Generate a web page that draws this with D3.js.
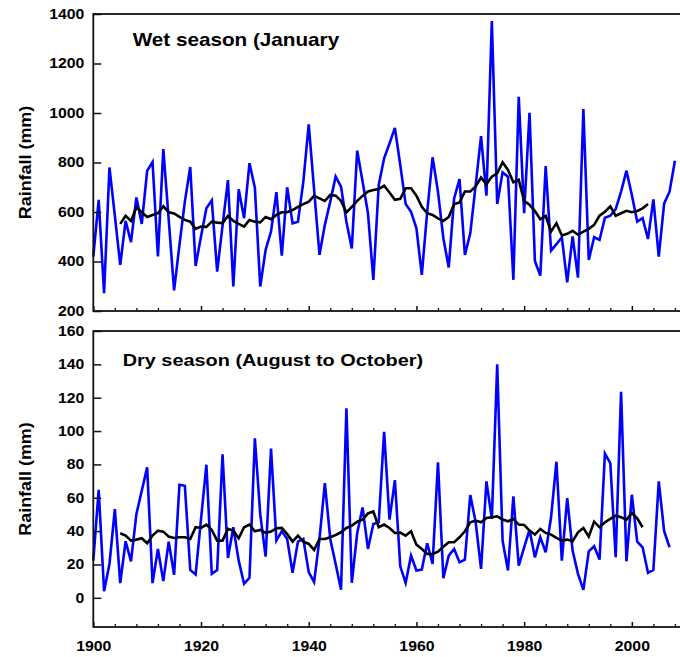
<!DOCTYPE html>
<html><head><meta charset="utf-8">
<script src="https://cdn.jsdelivr.net/npm/d3@7"></script>
<style>body{margin:0;background:#fff}svg{display:block}</style>
</head><body><svg id="c" width="680" height="657"></svg>
<script>
// ---------- data ----------
const wetYears = d3.range(1900, 2009);
const wetRain = [
  420,649,272,780,585,386,564,478,659,552,
  766,802,420,854,570,283,467,642,782,382,
  501,615,647,359,545,729,299,692,575,797,
  698,299,447,521,680,424,700,554,561,723,
  954,690,427,548,642,743,702,561,453,848,
  723,595,326,709,817,877,940,790,632,601,
  534,346,601,821,682,494,376,655,733,427,
  514,709,907,666,1372,632,760,743,326,1065,
  595,1001,402,343,786,444,470,498,316,501,
  335,1016,406,498,487,577,585,612,682,767,
  669,561,575,491,651,420,635,682,807
];
const wetAvgYears = d3.range(1905, 2004);
const wetAvg = [
  552,585,564,619,599,
  580,588,595,623,599,594,580,568,561,532,
  541,540,561,557,555,584,564,552,541,568,
  561,558,580,571,588,599,599,608,621,632,
  642,665,655,645,669,666,645,598,621,645,
  665,683,689,693,706,679,649,653,696,696,
  666,621,595,588,574,564,580,632,638,683,
  683,703,739,712,743,756,801,770,720,730,
  645,629,604,571,584,521,555,505,512,524,
  508,521,532,548,585,601,623,585,595,605,
  599,604,615,632
];
const dryYears = d3.range(1900, 2008);
const dryRain = [
  22.3,64.8,4.0,20.3,53.2,8.8,33.9,21.9,50.2,64.2,
  78.2,8.8,29.3,10.0,33.7,13.8,67.8,67.2,16.7,14.0,
  47,79.8,14.4,16.7,86.1,23.9,42.3,22.3,8.4,12.0,
  95.7,50,24.7,89.5,34.3,40,35.3,15.0,33.7,35.3,
  15.4,9.4,35.3,68.8,35.3,20.3,4.8,113.7,9.0,38.7,
  54.2,29.3,44.3,45.3,99.5,46.9,70.6,18.9,9.0,25.3,
  16.4,16.9,32.7,20.3,81.2,11.8,25.3,29.3,21.3,22.9,
  61.6,45.3,17.3,69.8,47.3,140.0,34.3,16.4,60.8,19.3,
  30.3,40.7,24.3,36.3,27.3,48.3,81.6,22.3,59.8,28.3,
  14.4,4.8,27.9,30.9,22.9,86.5,80.8,24.3,123.6,21.9,
  61.8,33.7,30.3,15.0,16.7,69.8,39.9,30.3
];
const dryAvgYears = d3.range(1905, 2003);
const dryAvg = [
  38.7,37.3,34.3,34.9,35.7,
  32.7,37.3,40.3,39.7,36.7,35.9,36.3,36.3,35.3,42.3,
  41.9,43.9,40.7,34.3,34.3,41.3,40.3,35.7,42.3,43.9,
  39.9,40.7,38.9,39.7,41.7,41.9,38.3,33.7,37.3,33.7,
  32.3,28.7,35.3,35.3,36.3,37.7,39.3,41.9,43.3,45.7,
  46.9,50.6,51.8,42.3,43.9,41.9,38.9,39.1,37.3,39.9,
  31.9,29.3,26.3,26.3,27.7,30.7,33.3,33.3,36.3,39.9,
  45.3,46.3,45.3,47.9,48.3,48.9,46.9,45.9,47.3,43.9,
  43.7,40.3,37.9,41.3,38.9,37.9,35.9,34.3,34.9,33.9,
  39.3,41.9,36.7,45.7,42.3,45.3,47.3,49.3,48.3,46.9,
  50.8,47.7,42.3
];
const wetTicks = [200,400,600,800,1000,1200,1400];
const dryTicks = [0,20,40,60,80,100,120,140,160];
const yearTicks = [1900,1920,1940,1960,1980,2000];
const minorYearTicks = [1904,1908,1912,1916,1924,1928,1932,1936,1944,1948,1952,1956,1964,1968,1972,1976,1984,1988,1992,1996,2004,2008];
const wetTitle = "Wet season (January";
const dryTitle = "Dry season (August to October)";
const yTitle = "Rainfall (mm)";

// ---------- layout ----------
const FONT = "'Liberation Sans', Arial, Helvetica, sans-serif";
const SX = 1.13; // horizontal stretch of the reference font
const svg = d3.select("#c");
const x = d3.scaleLinear().domain([1900, 2010]).range([93.3, 685.7]);

const panels = [
  {top:14, bottom:311, domain:[200,1400], ticks:wetTicks, title:wetTitle, tx:132.7, ty:45.7, tfs:18,
   series:[{yrs:wetYears, v:wetRain, c:"#0000ff"}, {yrs:wetAvgYears, v:wetAvg, c:"#000"}], labels:false},
  {top:331, bottom:627, domain:[-17.5,160], ticks:dryTicks, title:dryTitle, tx:122.7, ty:365.7, tfs:17.3,
   series:[{yrs:dryYears, v:dryRain, c:"#0000ff"}, {yrs:dryAvgYears, v:dryAvg, c:"#000"}], labels:true}
];

panels.forEach(p => {
  const y = d3.scaleLinear().domain(p.domain).range([p.bottom, p.top]);
  const g = svg.append("g");

  // data lines
  p.series.forEach(s => {
    const line = d3.line().x((d,i) => x(s.yrs[i])).y(d => y(d));
    g.append("path").datum(s.v).attr("d", line)
      .attr("fill","none").attr("stroke", s.c).attr("stroke-width", 2.6)
      .attr("stroke-linejoin","miter").attr("stroke-miterlimit", 4);
  });

  // frame
  g.append("rect").attr("x", x(1900)).attr("y", p.top)
    .attr("width", x.range()[1]-x(1900)).attr("height", p.bottom-p.top)
    .attr("fill","none").attr("stroke","#111").attr("stroke-width",1.8);

  // y axis (ticks inside)
  const ya = g.append("g").attr("transform", `translate(${x(1900)},0)`)
    .call(d3.axisLeft(y).tickValues(p.ticks).tickSize(-8).tickPadding(9).tickFormat(d3.format("d")));
  ya.select(".domain").remove();
  ya.selectAll(".tick line").attr("stroke","#111").attr("stroke-width",1.5);
  ya.selectAll(".tick text").attr("font-family",FONT).attr("font-weight","bold")
    .attr("font-size",14).attr("fill","#000")
    .attr("x", -9/SX).attr("transform", `scale(${SX},1)`);

  // x axis major ticks
  const xa = g.append("g").attr("transform", `translate(0,${p.bottom})`)
    .call(d3.axisBottom(x).tickValues(yearTicks).tickSize(-5).tickPadding(14).tickFormat(d3.format("d")));
  xa.select(".domain").remove();
  xa.selectAll(".tick line").attr("stroke","#111").attr("stroke-width",1.5);
  if (p.labels) {
    xa.selectAll(".tick text").attr("font-family",FONT).attr("font-weight","bold")
      .attr("font-size",14).attr("fill","#000").attr("transform", `scale(${SX},1)`);
  } else {
    xa.selectAll(".tick text").remove();
  }
  // x axis minor ticks
  const xm = g.append("g").attr("transform", `translate(0,${p.bottom})`)
    .call(d3.axisBottom(x).tickValues(minorYearTicks).tickSize(-3).tickFormat(""));
  xm.select(".domain").remove();
  xm.selectAll(".tick line").attr("stroke","#111").attr("stroke-width",1.3);

  // panel title
  g.append("text").attr("transform", `translate(${p.tx},${p.ty}) scale(1.15,1)`)
    .attr("font-family",FONT).attr("font-weight","bold").attr("font-size",p.tfs)
    .attr("fill","#000").text(p.title);

  // y title
  g.append("text")
    .attr("transform", `translate(31,${(p.top+p.bottom)/2}) rotate(-90) scale(1.12,1)`)
    .attr("text-anchor","middle").attr("font-family",FONT).attr("font-weight","bold")
    .attr("font-size",16).attr("fill","#000").text(yTitle);
});
</script>
</body></html>
